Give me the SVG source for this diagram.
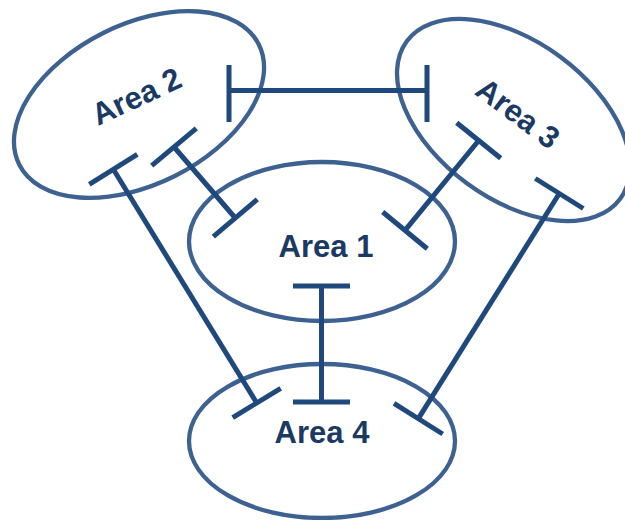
<svg xmlns="http://www.w3.org/2000/svg" width="625" height="520" viewBox="0 0 625 520">
  <style>
    .area { fill: none; stroke: #3D6291; stroke-width: 4.3; }
    .label { font-family: "Liberation Sans", Arial, sans-serif; font-weight: bold; font-size: 31px; fill: #1B3A63; text-anchor: middle; }
    .link { stroke: #1F497D; stroke-width: 5; stroke-linecap: butt; fill: none; }
  </style>
  <rect width="625" height="520" fill="#ffffff"/>

  <g id="area2">
    <ellipse class="area" cx="0" cy="0" rx="134" ry="80" transform="translate(139,104.5) rotate(-26.6)"/>
    <text class="label" transform="translate(141,106) rotate(-25)">Area 2</text>
  </g>

  <g id="area3">
    <ellipse class="area" cx="0" cy="0" rx="132.6" ry="78.7" transform="translate(513.5,120) rotate(36.4)"/>
    <text class="label" transform="translate(511.5,122) rotate(36.8)">Area 3</text>
  </g>

  <g id="area1">
    <ellipse class="area" cx="322" cy="241.5" rx="133" ry="79.5"/>
    <text class="label" x="326" y="257">Area 1</text>
  </g>

  <g id="area4">
    <ellipse class="area" cx="322" cy="441" rx="133" ry="77"/>
    <text class="label" x="322" y="443">Area 4</text>
  </g>

  <g id="connectors">
    <!-- Area 2 - Area 3 -->
    <line class="link" x1="229" y1="90.5" x2="427" y2="90.5"/>
    <line class="link" x1="229" y1="65" x2="229" y2="122"/>
    <line class="link" x1="427" y1="65" x2="427" y2="122"/>

    <!-- Area 2 - Area 1 -->
    <line class="link" x1="174" y1="147" x2="235.3" y2="218"/>
    <line class="link" x1="151.7" y1="165.7" x2="196.3" y2="128.3"/>
    <line class="link" x1="213.3" y1="236.7" x2="257.3" y2="199.3"/>

    <!-- Area 2 - Area 4 -->
    <line class="link" x1="113.3" y1="169.3" x2="256.7" y2="403"/>
    <line class="link" x1="89.3" y1="184.3" x2="137.3" y2="154.3"/>
    <line class="link" x1="232.7" y1="417.7" x2="280.7" y2="388.3"/>

    <!-- Area 1 - Area 4 -->
    <line class="link" x1="321.5" y1="286" x2="321.5" y2="402"/>
    <line class="link" x1="293" y1="286" x2="350" y2="286"/>
    <line class="link" x1="293" y1="402" x2="350" y2="402"/>

    <!-- Area 3 - Area 1 -->
    <line class="link" x1="478.7" y1="140.5" x2="405" y2="230.3"/>
    <line class="link" x1="456.7" y1="122.7" x2="500.7" y2="158.3"/>
    <line class="link" x1="382.7" y1="212" x2="427.3" y2="248.7"/>

    <!-- Area 3 - Area 4 -->
    <line class="link" x1="559.3" y1="193.5" x2="418.3" y2="418.7"/>
    <line class="link" x1="535.3" y1="178.5" x2="583.3" y2="208.5"/>
    <line class="link" x1="394" y1="403.3" x2="442.7" y2="434"/>
  </g>
</svg>
